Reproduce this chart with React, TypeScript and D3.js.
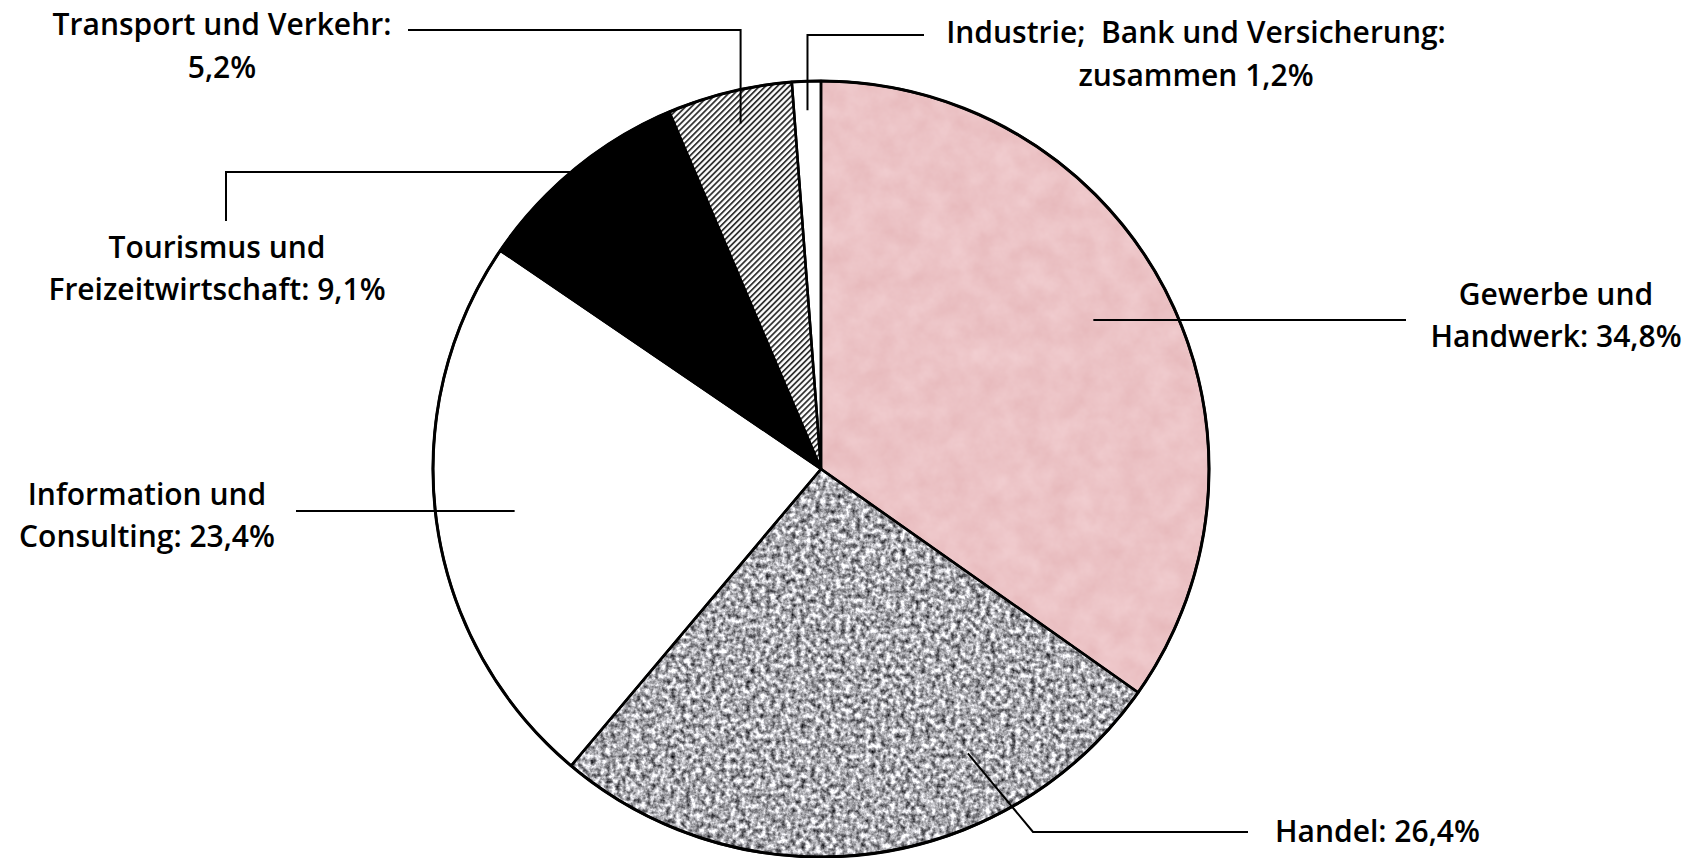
import React from "react";
import * as d3 from "d3";

const categories = [
  "Gewerbe und Handwerk",
  "Handel",
  "Information und Consulting",
  "Tourismus und Freizeitwirtschaft",
  "Transport und Verkehr",
  "Industrie; Bank und Versicherung",
];
const values = [34.8, 26.4, 23.4, 9.1, 5.2, 1.2];
const labelLines = [
  ["Gewerbe und", "Handwerk: 34,8%"],
  ["Handel: 26,4%"],
  ["Information und", "Consulting: 23,4%"],
  ["Tourismus und", "Freizeitwirtschaft: 9,1%"],
  ["Transport und Verkehr:", "5,2%"],
  ["Industrie;  Bank und Versicherung:", "zusammen 1,2%"],
];

const W = 1688;
const H = 858;
const CX = 821;
const CY = 469;
const R = 388;
const FONT = "'Open Sans', 'Noto Sans', sans-serif";
const FS = 30;

type Layout = {
  frac: number;
  rf: number;
  after: (a: [number, number]) => [number, number][];
  tx: number;
  ty: number;
  anchor: "middle" | "start";
  lh: number;
};
const layouts: Layout[] = [
  { frac: 0.49, rf: 0.8, after: (a) => [[1406, a[1]]], tx: 1556, ty: 305, anchor: "middle", lh: 42 },
  { frac: 0.29, rf: 0.825, after: () => [[1033, 832], [1248, 832]], tx: 1275, ty: 842, anchor: "start", lh: 42 },
  { frac: 0.5, rf: 0.797, after: (a) => [[296, a[1]]], tx: 147, ty: 505, anchor: "middle", lh: 42 },
  { frac: 0.48, rf: 1.0, after: (a) => [[226, a[1]], [226, 221]], tx: 217, ty: 258, anchor: "middle", lh: 42 },
  { frac: 0.53, rf: 0.914, after: (a) => [[a[0], 30], [408, 30]], tx: 222, ty: 35, anchor: "middle", lh: 43 },
  { frac: 0.5, rf: 0.925, after: (a) => [[a[0], 35], [924, 35]], tx: 1196, ty: 43, anchor: "middle", lh: 43 },
];

const fills = ["#f0c5c8", "#aaaaaa", "#ffffff", "#000000", "url(#hatch)", "#ffffff"];

export default function App() {
  const data = categories.map((c, i) => ({ c, v: values[i], i }));
  const pie = d3
    .pie<{ c: string; v: number; i: number }>()
    .value((d) => d.v)
    .sort(null)
    .startAngle(0)
    .endAngle(2 * Math.PI);
  const arcs = pie(data);
  const arc = d3
    .arc<d3.PieArcDatum<{ c: string; v: number; i: number }>>()
    .innerRadius(0)
    .outerRadius(R);

  const line = d3.line();

  return (
    <svg
      width={W}
      height={H}
      style={{ position: "absolute", left: 0, top: 0, background: "#fff" }}
    >
      <defs>
        <filter
          id="pinkF"
          x="0"
          y="0"
          width="1"
          height="1"
          filterUnits="objectBoundingBox"
          colorInterpolationFilters="sRGB"
        >
          <feTurbulence type="fractalNoise" baseFrequency="0.04" numOctaves={4} seed={7} result="n" />
          <feColorMatrix
            in="n"
            type="matrix"
            values="0.05 0 0 0 0.9  0.1 0 0 0 0.715  0.1 0 0 0 0.725  0 0 0 0 1"
            result="c"
          />
          <feComposite in="c" in2="SourceAlpha" operator="in" />
        </filter>
        <filter
          id="graniteF"
          x="0"
          y="0"
          width="1"
          height="1"
          filterUnits="objectBoundingBox"
          colorInterpolationFilters="sRGB"
        >
          <feTurbulence type="fractalNoise" baseFrequency="0.2" numOctaves={3} seed={3} result="n" />
          <feColorMatrix
            in="n"
            type="matrix"
            values="1.5 0 0 0 -0.08  1.5 0 0 0 -0.08  1.5 0 0 0 -0.06  0 0 0 0 1"
            result="c"
          />
          <feComposite in="c" in2="SourceAlpha" operator="in" />
        </filter>
        <pattern
          id="hatch"
          patternUnits="userSpaceOnUse"
          width={4.2}
          height={10}
          patternTransform="rotate(45)"
        >
          <rect x={0} y={0} width={4.2} height={10} fill="#ffffff" />
          <rect x={0} y={0} width={1.8} height={10} fill="#333333" />
        </pattern>
      </defs>
      <g transform={`translate(${CX},${CY})`}>
        {arcs.map((a, i) => {
          const d = arc(a) || "";
          if (i === 0)
            return <path key={i} d={d} fill={fills[i]} filter="url(#pinkF)" />;
          if (i === 1)
            return <path key={i} d={d} fill={fills[i]} filter="url(#graniteF)" />;
          return <path key={i} d={d} fill={fills[i]} />;
        })}
        {arcs.map((a, i) => (
          <path
            key={"o" + i}
            d={arc(a) || ""}
            fill="none"
            stroke="#000"
            strokeWidth={2.5}
            strokeLinejoin="round"
          />
        ))}
        <circle r={R} fill="none" stroke="#000" strokeWidth={3} />
      </g>
      {arcs.map((a, i) => {
        const L = layouts[i];
        const ang = a.startAngle + (a.endAngle - a.startAngle) * L.frac;
        const p: [number, number] = [
          CX + Math.sin(ang) * R * L.rf,
          CY - Math.cos(ang) * R * L.rf,
        ];
        const pts: [number, number][] = [p, ...L.after(p)];
        return (
          <path
            key={"l" + i}
            d={line(pts) || ""}
            fill="none"
            stroke="#000"
            strokeWidth={2}
          />
        );
      })}
      {labelLines.map((lines, i) => {
        const L = layouts[i];
        return (
          <text
            key={"t" + i}
            x={L.tx}
            y={L.ty}
            textAnchor={L.anchor}
            fontFamily={FONT}
            fontSize={FS}
            fontWeight={600}
            fill="#000"
            style={{ whiteSpace: "pre" }}
          >
            {lines.map((s, j) => (
              <tspan key={j} x={L.tx} dy={j === 0 ? 0 : L.lh}>
                {s}
              </tspan>
            ))}
          </text>
        );
      })}
    </svg>
  );
}
